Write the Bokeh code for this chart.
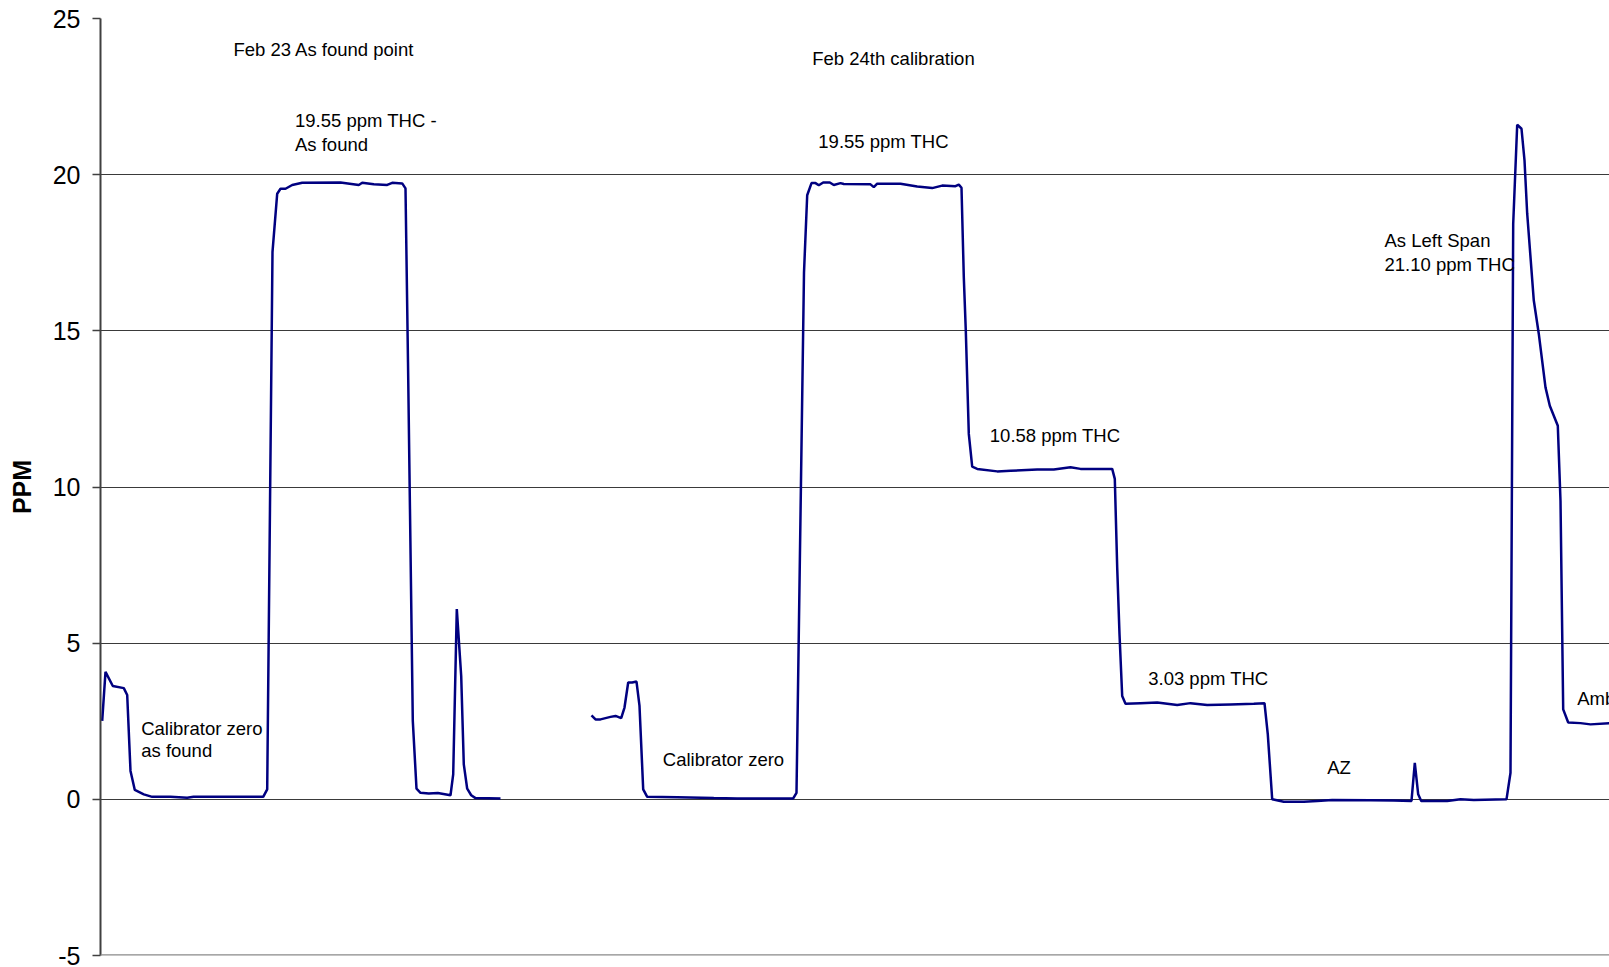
from bokeh.plotting import figure
from bokeh.models import ColumnDataSource, Range1d, FixedTicker, Span, CustomJSTickFormatter
from bokeh.core.properties import value
from bokeh.embed import file_html
from bokeh.resources import INLINE

# ---- data (time in sample units, THC in ppm) ----
run1_t = [1.7, 5, 12.3, 23.3, 26.7, 30, 34.3, 43.3, 51.7, 70, 86.7, 93, 162.7, 166.7,
          172, 176.7, 180, 185, 191.7, 201.7, 240, 258.3, 261.7, 273.3, 286.7, 291.7,
          301.7, 305, 307.5, 312.3, 316, 320, 328.3, 337.3, 350, 352.7, 356.3, 360.7,
          363.3, 366.7, 370.7, 375, 400]
run1_ppm = [2.51, 4.08, 3.63, 3.56, 3.34, 0.91, 0.30, 0.16, 0.08, 0.08, 0.05, 0.08, 0.08, 0.32,
            17.53, 19.39, 19.55, 19.55, 19.67, 19.74, 19.75, 19.67, 19.74, 19.69, 19.67, 19.74,
            19.72, 19.56, 14.0, 2.51, 0.34, 0.21, 0.19, 0.20, 0.13, 0.80, 6.09, 3.95,
            1.12, 0.34, 0.13, 0.04, 0.03]

run2_t = [491, 495, 500, 510, 515, 520.7, 524, 527.7, 531.7, 536, 539, 542.7, 546.7, 576.7,
          613.3, 636.7, 660, 692.7, 696, 703.5, 706.7, 711, 715, 718.3, 722.7, 729.3, 733.3,
          740, 743.3, 770, 773.3, 776.7, 800, 816.7, 831.7, 841.7, 855, 858.3, 861, 863.3,
          865.3, 868.3, 871.7, 876.7, 896.7, 910, 936.7, 953.3, 970, 980, 993.3, 1011.7,
          1014.3, 1016.7, 1019, 1021.7, 1025, 1040, 1056.7, 1076.7, 1090, 1106.7, 1130,
          1153.3, 1164, 1167.3, 1171.7, 1183.3, 1203.3, 1216.7, 1231.7, 1270, 1293.3, 1311,
          1314.3, 1317.7, 1320.7, 1346.7, 1360, 1373.3, 1406, 1410, 1412.7, 1416.7, 1421,
          1424, 1426.7, 1433.3, 1438.3, 1445, 1449.3, 1457.3, 1460, 1462.7, 1467.7, 1480,
          1490, 1509, 1520]
run2_ppm = [2.69, 2.56, 2.56, 2.64, 2.67, 2.60, 2.94, 3.74, 3.74, 3.77, 2.99, 0.32, 0.08, 0.07,
            0.04, 0.03, 0.03, 0.03, 0.21, 16.87, 19.34, 19.73, 19.73, 19.66, 19.75, 19.75, 19.67,
            19.73, 19.70, 19.69, 19.60, 19.71, 19.71, 19.62, 19.57, 19.65, 19.63, 19.68, 19.58, 16.72,
            15.0, 11.7, 10.65, 10.58, 10.50, 10.52, 10.56, 10.56, 10.63, 10.58, 10.58, 10.58,
            10.26, 7.42, 5.29, 3.31, 3.06, 3.08, 3.10, 3.02, 3.08, 3.02, 3.04,
            3.06, 3.08, 2.08, 0.0, -0.08, -0.08, -0.05, -0.02, -0.03, -0.04, -0.05,
            1.17, 0.16, -0.05, -0.05, 0.0, -0.02, 0.0, 0.85, 18.43, 21.60, 21.47,
            20.46, 18.75, 15.97, 14.90, 13.19, 12.60, 11.96, 9.56, 2.88, 2.46, 2.44,
            2.40, 2.44, 2.43]

note_text = ["Feb 23 As found point", "19.55 ppm THC -", "As found",
             "Feb 24th calibration", "19.55 ppm THC", "10.58 ppm THC", "3.03 ppm THC",
             "AZ", "As Left Span", "21.10 ppm THC", "Ambient",
             "Calibrator zero", "as found", "Calibrator zero"]
note_t = [132.9, 194.5, 194.5, 711.7, 717.8, 889.3, 1047.7, 1226.7, 1284, 1284, 1476.7,
          40.7, 40.7, 562.3]
note_ppm = [24.01, 21.74, 20.98, 23.71, 21.05, 11.64, 3.87, 1.01, 17.89, 17.12, 3.22,
            2.28, 1.57, 1.26]

y_ticks = [-5, 0, 5, 10, 15, 20, 25]

FONT = "Liberation Sans"

p = figure(width=1609, height=967, output_backend="svg", toolbar_location=None,
           x_range=Range1d(0, 1509), y_range=Range1d(-5, 25),
           min_border_left=100, min_border_right=0, min_border_top=18, min_border_bottom=12,
           background_fill_color="white", border_fill_color="white")
p.outline_line_color = None

# grid lines
p.xgrid.visible = False
p.ygrid.ticker = FixedTicker(ticks=y_ticks)
p.ygrid.grid_line_color = "#3a3a3a"
p.ygrid.grid_line_width = 1.2

# x axis hidden; bottom line drawn as span
p.xaxis.visible = False
p.add_layout(Span(location=-5, dimension="width", line_color="#8a8a8a", line_width=2.5))

yax = p.yaxis[0]
yax.ticker = FixedTicker(ticks=y_ticks)
yax.formatter = CustomJSTickFormatter(code="return tick.toString();")
yax.axis_line_color = "#404040"
yax.axis_line_width = 2
yax.major_tick_line_color = "#404040"
yax.major_tick_line_width = 1.5
yax.major_tick_out = 8
yax.major_tick_in = 0
yax.minor_tick_line_color = None
yax.major_label_text_font = FONT
yax.major_label_text_font_size = "25px"
yax.major_label_text_color = "black"
yax.major_label_standoff = 12
yax.axis_label = "PPM"
yax.axis_label_text_font = FONT
yax.axis_label_text_font_style = "bold"
yax.axis_label_text_font_size = "25px"
yax.axis_label_text_color = "black"
yax.axis_label_standoff = 14

LINE = "#000080"
p.line(run1_t, run1_ppm, line_color=LINE, line_width=2.5)
p.line(run2_t, run2_ppm, line_color=LINE, line_width=2.5)

src = ColumnDataSource(dict(x=note_t, y=note_ppm, text=note_text))
p.text(x="x", y="y", text="text", source=src, text_font=value(FONT),
       text_font_size="18.5px", text_color="black", text_align="left",
       text_baseline="middle")

open("out.html", "w").write(file_html(p, INLINE))
